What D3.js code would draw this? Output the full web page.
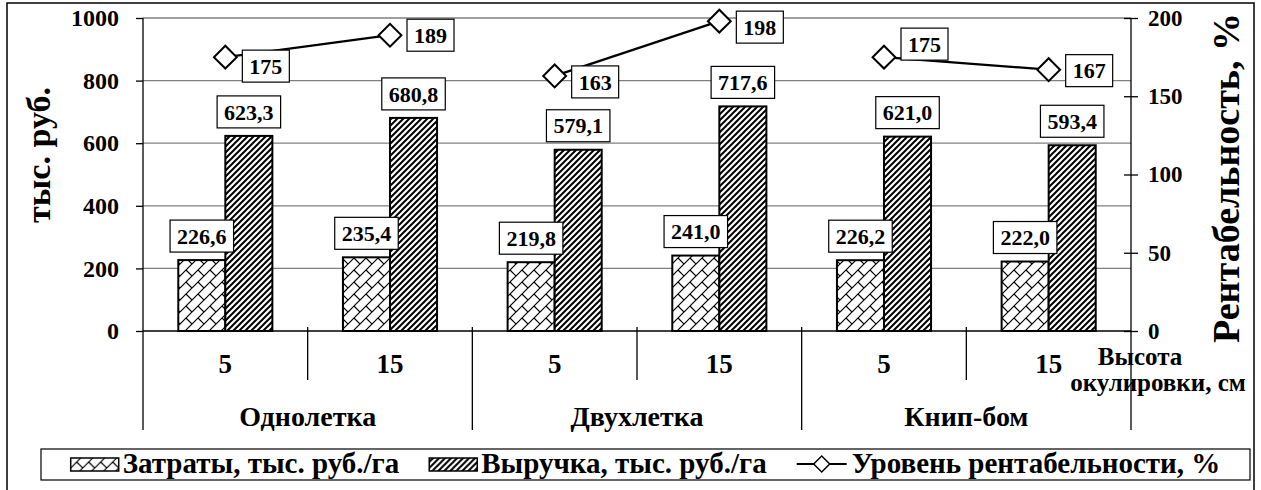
<!DOCTYPE html>
<html>
<head>
<meta charset="utf-8">
<script src="https://cdn.jsdelivr.net/npm/d3@7"></script>
<style>
  body { margin: 0; background: #fff; }
</style>
</head>
<body>
<div id="chart"></div>
<script>
// Data
var heights = ["5", "15", "5", "15", "5", "15"];
var groups = ["Однолетка", "Двухлетка", "Книп-бом"];
var costs = [226.6, 235.4, 219.8, 241.0, 226.2, 222.0];
var revenue = [623.3, 680.8, 579.1, 717.6, 621.0, 593.4];
var profit = [175, 189, 163, 198, 175, 167];
var leftTicks = [0, 200, 400, 600, 800, 1000];
var rightTicks = [0, 50, 100, 150, 200];
var seriesNames = ["Затраты, тыс. руб./га", "Выручка, тыс. руб./га", "Уровень рентабельности, %"];
// vertical nudges of the profitability labels (as placed in the original)
var profitLabelDy = [9, 0, 6, 6, -13, 1];

var width = 1261, height = 490;
var plot = {left: 143, right: 1131, top: 18, bottom: 331, base: 430};
var FONT = "Liberation Serif";

var svg = d3.select("#chart").append("svg")
  .attr("width", width)
  .attr("height", height)
  .style("font-family", FONT)
  .style("font-weight", "bold");

// every text gets the serif face explicitly
function label(sel, size) {
  return sel.style("font-family", FONT)
    .style("font-weight", "bold")
    .style("font-size", size + "px")
    .attr("fill", "#000");
}

// Fill patterns
var defs = svg.append("defs");
var p1 = defs.append("pattern")
  .attr("id", "brick")
  .attr("patternUnits", "userSpaceOnUse")
  .attr("width", 12).attr("height", 12);
p1.append("rect").attr("width", 12).attr("height", 12).attr("fill", "#fff");
p1.append("path")
  .attr("d", "M0,12 L12,0 M-1,1 L1,-1 M11,13 L13,11 M6,6 L12,12")
  .attr("stroke", "#000").attr("stroke-width", 1.2);

var p2 = defs.append("pattern")
  .attr("id", "stripes")
  .attr("patternUnits", "userSpaceOnUse")
  .attr("width", 6).attr("height", 6);
p2.append("rect").attr("width", 6).attr("height", 6).attr("fill", "#fff");
p2.append("path")
  .attr("d", "M0,6 L6,0 M-1.5,1.5 L1.5,-1.5 M4.5,7.5 L7.5,4.5")
  .attr("stroke", "#000").attr("stroke-width", 2);

// Outer frame
svg.append("rect")
  .attr("x", 7).attr("y", 3)
  .attr("width", 1247).attr("height", 500)
  .attr("fill", "none").attr("stroke", "#000").attr("stroke-width", 1.5);

// Scales
var x = d3.scaleBand()
  .domain(d3.range(heights.length))
  .range([plot.left, plot.right]);
var xs = d3.scaleBand()
  .domain(["cost", "rev"])
  .range([0, x.bandwidth()])
  .paddingOuter(0.75);
var y = d3.scaleLinear().domain([0, 1000]).range([plot.bottom, plot.top]);
var y2 = d3.scaleLinear().domain([0, 200]).range([plot.bottom, plot.top]);

// Gridlines
svg.append("g").selectAll("line")
  .data(leftTicks.slice(1))
  .enter().append("line")
  .attr("x1", plot.left).attr("x2", plot.right)
  .attr("y1", function(d) { return y(d); })
  .attr("y2", function(d) { return y(d); })
  .attr("stroke", "#808080").attr("stroke-width", 1.3);

// Left axis
var leftAxis = svg.append("g")
  .attr("transform", "translate(" + plot.left + ",0)")
  .call(d3.axisLeft(y).tickValues(leftTicks).tickFormat(d3.format("d")).tickSize(7).tickPadding(17));
leftAxis.attr("font-family", null).attr("font-size", null);
leftAxis.select(".domain").remove();
leftAxis.selectAll("line").attr("stroke-width", 1.3);
label(leftAxis.selectAll("text"), 24);

// Right axis
var rightAxis = svg.append("g")
  .attr("transform", "translate(" + plot.right + ",0)")
  .call(d3.axisRight(y2).tickValues(rightTicks).tickFormat(d3.format("d")).tickSize(7).tickPadding(10));
rightAxis.attr("font-family", null).attr("font-size", null);
rightAxis.select(".domain").remove();
rightAxis.selectAll("line").attr("x1", -7).attr("stroke-width", 1.3);
label(rightAxis.selectAll("text"), 23);

// Vertical axis lines, extended into the category area
svg.append("line")
  .attr("x1", plot.left).attr("x2", plot.left)
  .attr("y1", plot.top).attr("y2", plot.base)
  .attr("stroke", "#000").attr("stroke-width", 1.3);
svg.append("line")
  .attr("x1", plot.right).attr("x2", plot.right)
  .attr("y1", plot.top).attr("y2", plot.base)
  .attr("stroke", "#000").attr("stroke-width", 1.3);

// Bars
var bars = svg.append("g");
bars.selectAll(".cost")
  .data(costs)
  .enter().append("rect")
  .attr("class", "cost")
  .attr("x", function(d, i) { return x(i) + xs("cost"); })
  .attr("y", function(d) { return y(d); })
  .attr("width", xs.bandwidth())
  .attr("height", function(d) { return y(0) - y(d); })
  .attr("fill", "url(#brick)")
  .attr("stroke", "#000").attr("stroke-width", 2);
bars.selectAll(".rev")
  .data(revenue)
  .enter().append("rect")
  .attr("class", "rev")
  .attr("x", function(d, i) { return x(i) + xs("rev"); })
  .attr("y", function(d) { return y(d); })
  .attr("width", xs.bandwidth())
  .attr("height", function(d) { return y(0) - y(d); })
  .attr("fill", "url(#stripes)")
  .attr("stroke", "#000").attr("stroke-width", 2);

// Category axis line and dividers
svg.append("line")
  .attr("x1", plot.left).attr("x2", plot.right)
  .attr("y1", plot.bottom).attr("y2", plot.bottom)
  .attr("stroke", "#000").attr("stroke-width", 1.3);
svg.append("g").selectAll("line")
  .data(d3.range(1, heights.length))
  .enter().append("line")
  .attr("x1", function(i) { return x(i); })
  .attr("x2", function(i) { return x(i); })
  .attr("y1", plot.bottom - 4)
  .attr("y2", function(i) { return i % 2 === 0 ? plot.base : 380; })
  .attr("stroke", "#000").attr("stroke-width", 1.3);

// Category labels
label(svg.append("g").selectAll("text")
  .data(heights)
  .enter().append("text")
  .attr("x", function(d, i) { return x(i) + x.bandwidth() / 2; })
  .attr("y", 373)
  .attr("text-anchor", "middle")
  .text(function(d) { return d; }), 27);
label(svg.append("g").selectAll("text")
  .data(groups)
  .enter().append("text")
  .attr("x", function(d, i) { return x(i * 2) + x.bandwidth(); })
  .attr("y", 426)
  .attr("text-anchor", "middle")
  .text(function(d) { return d; }), 28);

label(svg.append("text")
  .attr("x", 1140).attr("y", 365)
  .attr("text-anchor", "middle")
  .text("Высота"), 25);
label(svg.append("text")
  .attr("x", 1158).attr("y", 391)
  .attr("text-anchor", "middle")
  .text("окулировки, см"), 25);

// Axis titles
label(svg.append("text")
  .attr("transform", "translate(50,155) rotate(-90)")
  .attr("text-anchor", "middle")
  .text("тыс. руб."), 34);
label(svg.append("text")
  .attr("transform", "translate(1239,178) rotate(-90)")
  .attr("text-anchor", "middle")
  .text("Рентабельность, %"), 38);

var fmt = function(v) { return d3.format(".1f")(v).replace(".", ","); };

// Boxed label helper
function boxLabel(g, cx, cy, txt, anchor) {
  var t = label(g.append("text")
    .attr("x", cx).attr("y", cy)
    .attr("dy", "0.35em")
    .attr("text-anchor", anchor)
    .text(txt), 22);
  var b = t.node().getBBox();
  g.insert("rect", "text")
    .attr("x", b.x - 7).attr("y", cy - 16)
    .attr("width", b.width + 14).attr("height", 32)
    .attr("fill", "#fff").attr("stroke", "#000").attr("stroke-width", 1.2);
}

// Bar labels
var barLabels = svg.append("g");
costs.forEach(function(d, i) {
  boxLabel(barLabels.append("g"), x(i) + xs("cost") + xs.bandwidth() / 2, y(d) - 24, fmt(d), "middle");
});
revenue.forEach(function(d, i) {
  boxLabel(barLabels.append("g"), x(i) + xs("rev") + xs.bandwidth() / 2, y(d) - 24, fmt(d), "middle");
});

// Profitability lines (one per group)
var line = d3.line()
  .x(function(d) { return x(d.i) + x.bandwidth() / 2; })
  .y(function(d) { return y2(d.v); });
var lines = svg.append("g");
groups.forEach(function(gname, gi) {
  var pts = [gi * 2, gi * 2 + 1].map(function(i) { return {i: i, v: profit[i]}; });
  lines.append("path")
    .attr("d", line(pts))
    .attr("fill", "none")
    .attr("stroke", "#000").attr("stroke-width", 2.2);
});
var diamond = d3.symbol().type(d3.symbolSquare).size(260);
lines.selectAll(".mark")
  .data(profit)
  .enter().append("path")
  .attr("class", "mark")
  .attr("d", diamond)
  .attr("transform", function(d, i) {
    return "translate(" + (x(i) + x.bandwidth() / 2) + "," + y2(d) + ") rotate(45)";
  })
  .attr("fill", "#fff").attr("stroke", "#000").attr("stroke-width", 2);

var profLabels = svg.append("g");
profit.forEach(function(d, i) {
  boxLabel(profLabels.append("g"), x(i) + x.bandwidth() / 2 + 24, y2(d) + profitLabelDy[i], d, "start");
});

// Legend, items laid out one after another and centred in the box
var legendBox = {x: 41, y: 449, w: 1209, h: 31};
var legend = svg.append("g");
legend.append("rect")
  .attr("x", legendBox.x).attr("y", legendBox.y)
  .attr("width", legendBox.w).attr("height", legendBox.h)
  .attr("fill", "#fff").attr("stroke", "#000").attr("stroke-width", 1.2);
var legendFill = ["url(#brick)", "url(#stripes)", null];
var gap = 30;
var items = legend.append("g");
var cursor = 0;
seriesNames.forEach(function(name, i) {
  var lg = items.append("g").attr("transform", "translate(" + cursor + ",0)");
  var tx;
  if (legendFill[i]) {
    lg.append("rect")
      .attr("x", 0).attr("y", 458)
      .attr("width", 48).attr("height", 13)
      .attr("fill", legendFill[i])
      .attr("stroke", "#000").attr("stroke-width", 1.5);
    tx = 52;
  } else {
    lg.append("line")
      .attr("x1", 0).attr("x2", 50)
      .attr("y1", 464).attr("y2", 464)
      .attr("stroke", "#000").attr("stroke-width", 2);
    lg.append("path")
      .attr("d", d3.symbol().type(d3.symbolSquare).size(130))
      .attr("transform", "translate(25,464) rotate(45)")
      .attr("fill", "#fff").attr("stroke", "#000").attr("stroke-width", 1.5);
    tx = 55;
  }
  var t = label(lg.append("text")
    .attr("x", tx).attr("y", 473)
    .text(name), 29);
  cursor += tx + t.node().getComputedTextLength() + gap;
});
var total = cursor - gap;
items.attr("transform", "translate(" + (legendBox.x + (legendBox.w - total) / 2) + ",0)");
</script>
</body>
</html>
